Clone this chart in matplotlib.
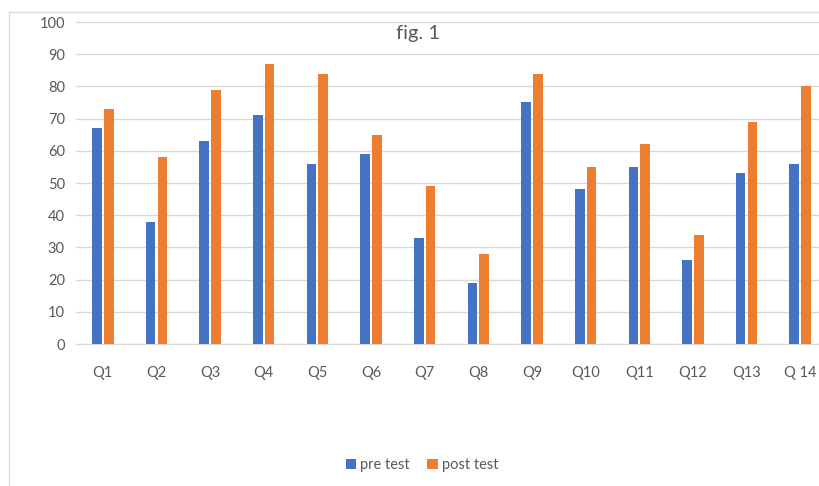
import matplotlib.pyplot as plt
import numpy as np
from matplotlib.lines import Line2D

categories = ['Q1', 'Q2', 'Q3', 'Q4', 'Q5', 'Q6', 'Q7', 'Q8', 'Q9', 'Q10', 'Q11', 'Q12', 'Q13', 'Q 14']
pre_test = [67, 38, 63, 71, 56, 59, 33, 19, 75, 48, 55, 26, 53, 56]
post_test = [73, 58, 79, 87, 84, 65, 49, 28, 84, 55, 62, 34, 69, 80]

blue = '#4472C4'
orange = '#ED7D31'
grey_txt = '#595959'
grid_col = '#D9D9D9'

plt.rcParams['font.family'] = ['Lato', 'DejaVu Sans']

fig = plt.figure(figsize=(8.19, 4.86), dpi=100)
ax = fig.add_axes([76/819, 142/486, 751/819, 322/486])

x = np.arange(len(categories))
w = 0.18
ax.bar(x - 0.11, pre_test, w, color=blue, label='pre test', zorder=3)
ax.bar(x + 0.11, post_test, w, color=orange, label='post test', zorder=3)

ax.set_xlim(-0.5, len(categories) - 0.5)
ax.set_ylim(0, 100)
ax.set_yticks(range(0, 101, 10))
ax.set_xticks(x)
ax.set_xticklabels(categories)
ax.yaxis.grid(True, color=grid_col, linewidth=1, zorder=0)
ax.tick_params(length=0, labelsize=10.5, colors=grey_txt)
ax.tick_params(axis='x', pad=16)
ax.tick_params(axis='y', pad=8)
for s in ['top', 'right', 'left']:
    ax.spines[s].set_visible(False)
ax.spines['bottom'].set_color(grid_col)

fig.text(418/819, 1 - 33/486, 'fig. 1', ha='center', va='center', fontsize=14.5, color=grey_txt)

# chart border (cut off on right/bottom)
fig.add_artist(Line2D([9/819, 9/819], [0, 1 - 12/486], transform=fig.transFigure, color=grid_col, lw=1))
fig.add_artist(Line2D([9/819, 1], [1 - 12/486, 1 - 12/486], transform=fig.transFigure, color=grid_col, lw=1))

fig.legend(loc='center', bbox_to_anchor=(422/819, 1 - 465/486), ncol=2, frameon=False,
           handlelength=0.7, handleheight=0.7, handletextpad=0.3, columnspacing=1.2,
           fontsize=10.5, labelcolor=grey_txt)

fig.savefig('out.png', dpi=100)
